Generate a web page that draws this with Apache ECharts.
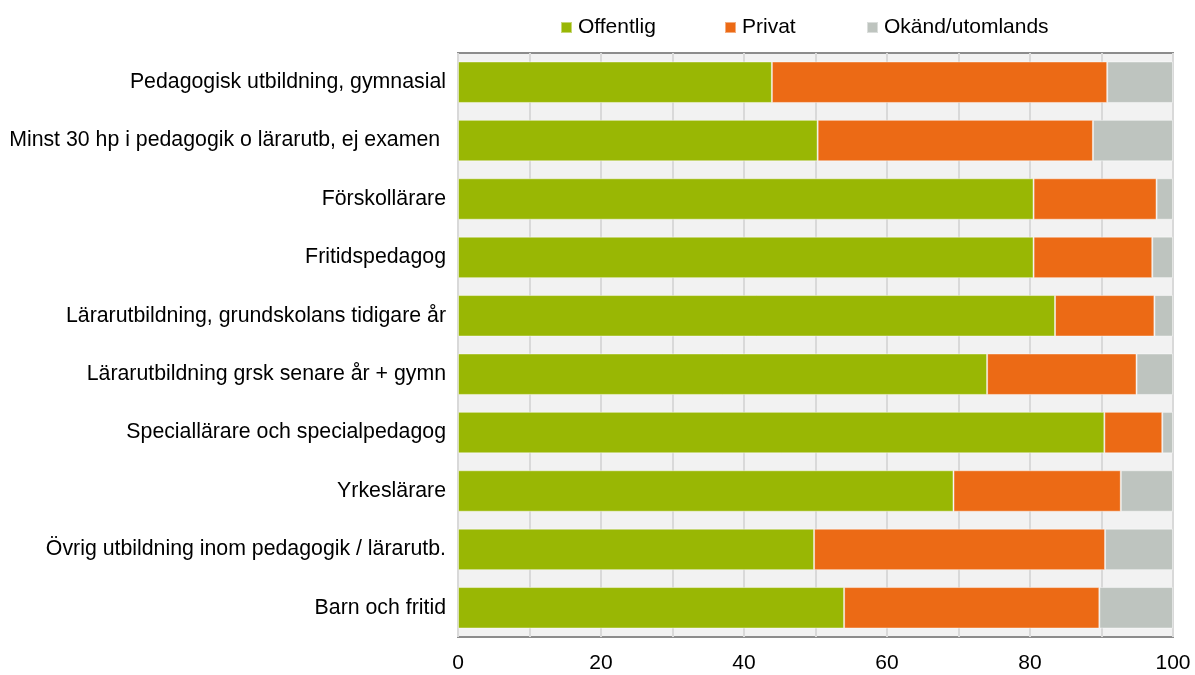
<!DOCTYPE html>
<html>
<head>
<meta charset="utf-8">
<script src="https://cdn.jsdelivr.net/npm/echarts@6/dist/echarts.min.js"></script>
<style>
html, body { margin: 0; padding: 0; background: #fff; }
#chart { width: 1195px; height: 675px; }
</style>
</head>
<body>
<div id="chart"></div>
<script>
// kategorier, uppifrån och ned
var categories = [
    'Pedagogisk utbildning, gymnasial',
    'Minst 30 hp i pedagogik o lärarutb, ej examen ',
    'Förskollärare',
    'Fritidspedagog',
    'Lärarutbildning, grundskolans tidigare år',
    'Lärarutbildning grsk senare år + gymn',
    'Speciallärare och specialpedagog',
    'Yrkeslärare',
    'Övrig utbildning inom pedagogik / lärarutb.',
    'Barn och fritid'
];
var offentlig = [43.9, 50.3, 80.5, 80.5, 83.5, 74.0, 90.4, 69.3, 49.8, 54.0];
var privat = [46.9, 38.5, 17.2, 16.6, 13.9, 20.9, 8.1, 23.4, 40.7, 35.7];
var okand = [9.2, 11.2, 2.3, 2.9, 2.6, 5.1, 1.5, 7.3, 9.5, 10.3];
var xTicks = [0, 20, 40, 60, 80, 100];

var font = '"Liberation Sans", Arial, sans-serif';
var colors = ['#99b704', '#ec6a15', '#bec4bf'];

function legendAt(left, name) {
    return {
        left: left,
        top: 17,
        padding: 0,
        icon: 'rect',
        itemWidth: 11,
        itemHeight: 11,
        data: [name],
        textStyle: { fontFamily: font, fontSize: 21, color: '#000', padding: [0, 0, 0, 1] }
    };
}

var chart = echarts.init(document.getElementById('chart'));
var option = {
    animation: false,
    color: colors,
    legend: [
        legendAt(560, 'Offentlig'),
        legendAt(724, 'Privat'),
        legendAt(866, 'Okänd/utomlands')
    ],
    grid: {
        left: 458,
        right: 22,
        top: 53,
        bottom: 38,
        show: true,
        backgroundColor: '#f2f2f2',
        borderColor: '#8c8c8c',
        borderWidth: 2
    },
    xAxis: {
        type: 'value',
        min: 0,
        max: 100,
        interval: 10,
        axisLine: { show: false },
        axisTick: { show: false },
        splitLine: { show: true, lineStyle: { color: '#d9d9d9', width: 2 } },
        axisLabel: {
            margin: 16,
            fontFamily: font,
            fontSize: 21,
            color: '#000',
            formatter: function (v) {
                return xTicks.indexOf(v) >= 0 ? String(v) : '';
            }
        }
    },
    yAxis: {
        type: 'category',
        inverse: true,
        data: categories,
        axisLine: { show: false },
        axisTick: { show: false },
        axisLabel: {
            margin: 12,
            fontFamily: font,
            fontSize: 21.3,
            color: '#000'
        }
    },
    series: [
        {
            name: 'Offentlig',
            type: 'bar',
            stack: 'tot',
            barCategoryGap: '29%',
            itemStyle: { borderColor: 'rgba(255,255,255,0.45)', borderWidth: 1 },
            data: offentlig
        },
        {
            name: 'Privat',
            type: 'bar',
            stack: 'tot',
            barCategoryGap: '29%',
            itemStyle: { borderColor: 'rgba(255,255,255,0.45)', borderWidth: 1 },
            data: privat
        },
        {
            name: 'Okänd/utomlands',
            type: 'bar',
            stack: 'tot',
            barCategoryGap: '29%',
            itemStyle: { borderColor: 'rgba(255,255,255,0.45)', borderWidth: 1 },
            data: okand
        }
    ]
};
chart.setOption(option);
</script>
</body>
</html>
